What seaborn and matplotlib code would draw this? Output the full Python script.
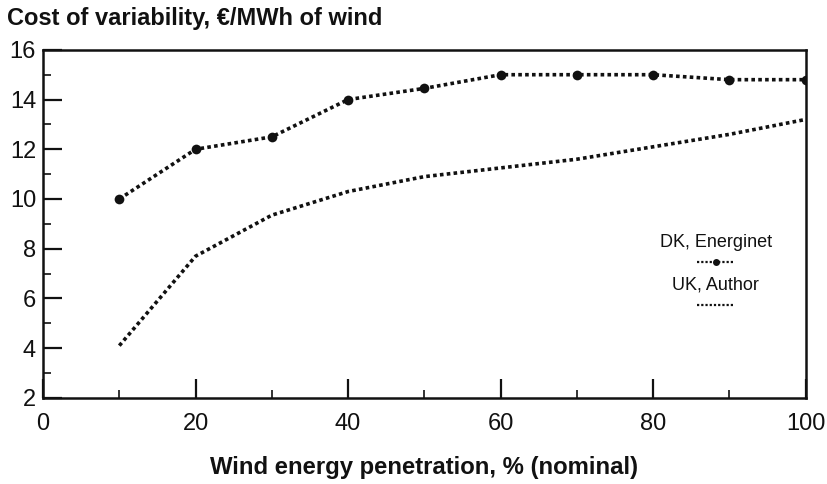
import matplotlib
matplotlib.use("Agg")
import matplotlib.pyplot as plt
from matplotlib.ticker import MultipleLocator
import numpy as np
import pandas as pd
import seaborn as sns

# Wind penetration levels (% nominal)
penetration = [10, 20, 30, 40, 50, 60, 70, 80, 90, 100]
# Cost of variability, EUR/MWh of wind
dk_energinet = [10.0, 12.0, 12.5, 14.0, 14.45, 15.0, 15.0, 15.0, 14.8, 14.8]
uk_author = [4.1, 7.7, 9.35, 10.3, 10.9, 11.25, 11.6, 12.1, 12.6, 13.2]

series_names = ["DK, Energinet", "UK, Author"]
x_ticks = [0, 20, 40, 60, 80, 100]
y_ticks = [2, 4, 6, 8, 10, 12, 14, 16]

df = pd.DataFrame({
    "penetration": penetration * 2,
    "cost": dk_energinet + uk_author,
    "series": [series_names[0]] * len(penetration) + [series_names[1]] * len(penetration),
})

sns.set_style("ticks")
plt.rcParams["font.family"] = ["Liberation Sans", "DejaVu Sans"]

fig = plt.figure(figsize=(8.28, 4.84), dpi=100)
ax = fig.add_axes([0.052, 0.178, 0.921, 0.719])

dot_style = (0, (1.0, 0.9))
dk = df[df["series"] == series_names[0]]
uk = df[df["series"] == series_names[1]]
sns.lineplot(data=dk, x="penetration", y="cost", ax=ax, color="#111111",
             linewidth=2.6, linestyle=dot_style, marker="o", markersize=7,
             markeredgewidth=0, legend=False)
sns.lineplot(data=uk, x="penetration", y="cost", ax=ax, color="#111111",
             linewidth=2.6, linestyle=dot_style, legend=False)

ax.set_xlim(0, 100)
ax.set_ylim(2, 16)
ax.set_xticks(x_ticks)
ax.set_yticks(y_ticks)
ax.xaxis.set_minor_locator(MultipleLocator(10))
ax.yaxis.set_minor_locator(MultipleLocator(1))
ax.tick_params(which="major", direction="in", length=14, width=1.6,
               labelsize=17, colors="#111111")
ax.tick_params(which="minor", direction="in", length=6, width=1.2, colors="#111111")
ax.tick_params(axis="x", pad=11)
ax.tick_params(axis="y", pad=5)
for s in ax.spines.values():
    s.set_linewidth(1.8)
    s.set_color("#111111")
    s.set_visible(True)

ax.set_xlabel("Wind energy penetration, % (nominal)", fontsize=17.2,
              fontweight="bold", labelpad=15, color="#111111")
ax.set_ylabel("")
fig.text(0.009, 0.948, "Cost of variability, €/MWh of wind", fontsize=17,
         fontweight="bold", ha="left", va="baseline", color="#111111")

# Stacked legend: series name above its line sample
dk_line = ax.get_lines()[0]
uk_line = ax.get_lines()[1]
legend_kw = dict(frameon=False, loc="center", handlelength=2.1,
                 title_fontsize=13, fontsize=13, borderpad=0,
                 handletextpad=0, labelspacing=0.25)
leg1 = ax.legend(handles=[dk_line], labels=[""], title=series_names[0],
                 bbox_to_anchor=(0.882, 0.416), **legend_kw)
ax.add_artist(leg1)
leg2 = ax.legend(handles=[uk_line], labels=[""], title=series_names[1],
                 bbox_to_anchor=(0.882, 0.293), **legend_kw)
for lg in (leg1, leg2):
    lg.get_title().set_color("#111111")
    for h in lg.legend_handles:
        h.set_linewidth(1.6)
        h.set_markersize(5)

fig.savefig("out.png", dpi=100, facecolor="white")
